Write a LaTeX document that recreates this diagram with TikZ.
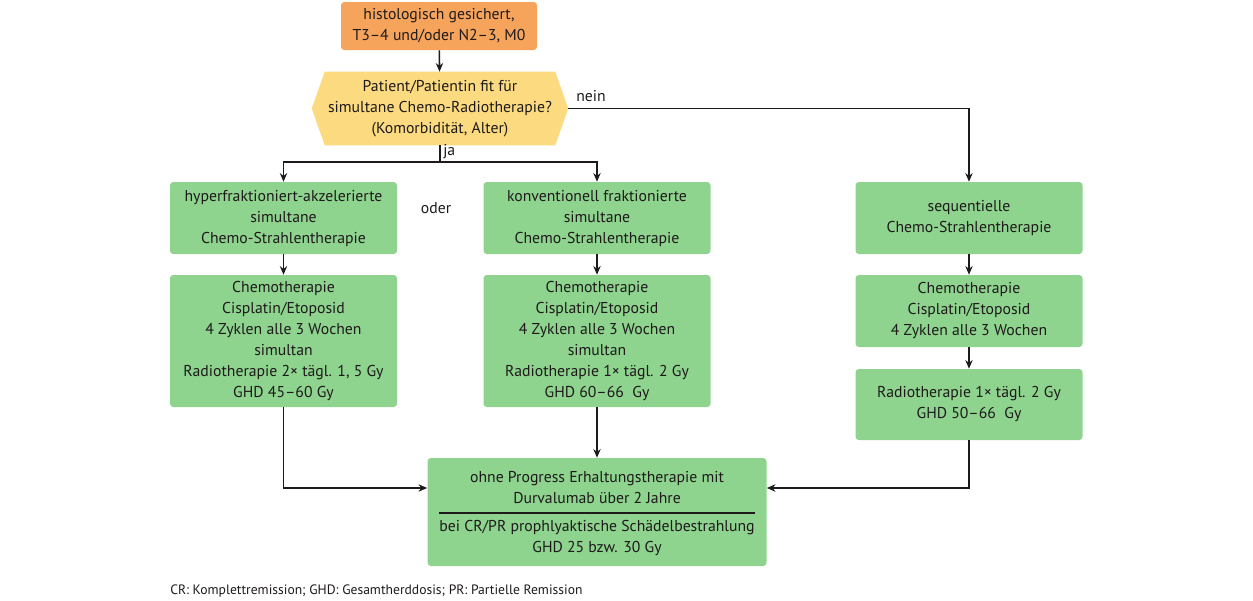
\documentclass[tikz,border=0pt]{standalone}
\usepackage{fontspec}
\setmainfont{PT Sans}
\usetikzlibrary{arrows.meta,calc,backgrounds}
\definecolor{gfill}{HTML}{8ED38E}
\definecolor{ofill}{HTML}{F6A45C}
\definecolor{yfill}{HTML}{FCDB80}
\definecolor{ink}{HTML}{1E1A1B}
\tikzset{
  box/.style={rounded corners=2.5pt, inner sep=2pt, align=center, text=ink},
  gbox/.style={box, fill=gfill, minimum width=170.25pt},
  arr/.style={draw=ink, line width=1.2pt, -{Stealth[length=6.5pt,width=5.5pt]}},
  ln/.style={draw=ink, line width=1.2pt},
  lbl/.style={text=ink, inner sep=0pt}
}
\begin{document}
\begin{tikzpicture}[x=0.75pt,y=-0.75pt, font=\fontsize{11.8}{15.75}\selectfont]
\useasboundingbox (0,0) rectangle (1253,600);

\node[box, fill=ofill, minimum width=147pt, minimum height=36pt] (O) at (439,26)
  {histologisch gesichert,\\T3–4 und/oder N2–3, M0};

\node[lbl, align=center, minimum width=192pt, minimum height=54.75pt] (H) at (440,108.5)
  {Patient/Patientin fit für\\simultane Chemo-Radiotherapie?\\(Komorbidität, Alter)};
\begin{scope}[on background layer]
  \fill[yfill] ($(H.north west)+(13,0)$) -- ($(H.north east)+(-13,0)$) -- (H.east)
    -- ($(H.south east)+(-13,0)$) -- ($(H.south west)+(13,0)$) -- (H.west) -- cycle;
\end{scope}

\node[gbox, minimum height=54pt] (A) at (283.5,218)
  {hyperfraktioniert-akzelerierte\\simultane\\Chemo-Strahlentherapie};
\node[gbox, minimum height=54pt] (B) at (597,218)
  {konventionell fraktionierte\\simultane\\Chemo-Strahlentherapie};
\node[gbox, minimum height=54pt] (C) at (969,218)
  {sequentielle\\Chemo-Strahlentherapie};
\node[lbl] (oder) at (436,208) {oder};

\node[gbox, minimum height=99pt] (A2) at (283.5,341)
  {Chemotherapie\\Cisplatin/Etoposid\\4 Zyklen alle 3 Wochen\\simultan\\Radiotherapie 2× tägl. 1, 5 Gy\\GHD 45–60 Gy};
\node[gbox, minimum height=99pt] (B2) at (597,341)
  {Chemotherapie\\Cisplatin/Etoposid\\4 Zyklen alle 3 Wochen\\simultan\\Radiotherapie 1× tägl. 2 Gy\\GHD 60–66~ Gy};
\node[gbox, minimum height=54pt] (C2) at (969,311)
  {Chemotherapie\\Cisplatin/Etoposid\\4 Zyklen alle 3 Wochen};
\node[gbox, minimum height=53.25pt] (C3) at (969,404.5)
  {Radiotherapie 1× tägl. 2 Gy\\GHD 50–66~ Gy};

\node[box, fill=gfill, minimum width=254.25pt, minimum height=81pt] (D) at (597,512) {};
\node[lbl, align=center] (D1) at (597,488) {ohne Progress Erhaltungstherapie mit\\Durvalumab über 2 Jahre};
\node[lbl, align=center] (D2) at (597,538.5) {bei CR/PR prophlyaktische Schädelbestrahlung\\GHD 25 bzw. 30 Gy};
\draw[ln, line width=0.9pt] ($(D.west)+(12,1)$) -- ($(D.east)+(-12,1)$);

\node[lbl, anchor=west, font=\fontsize{10.2}{12}\selectfont] (F) at (170,591)
  {CR: Komplettremission; GHD: Gesamtherddosis; PR: Partielle Remission};

% connectors
\draw[arr] (O) -- (H);
\coordinate (J) at (440,162);
\draw[ln] (H.south) -- (J);
\node[lbl, anchor=west] (ja) at (443,152) {ja};
\draw[arr] (J) -| (A.north);
\draw[arr] (J) -| (B.north);
\draw[arr] (H.east) -| (C.north);
\node[lbl, anchor=west] (nein) at (576,96) {nein};

\draw[arr] (A) -- (A2);
\draw[arr] (B) -- (B2);
\draw[arr] (C) -- (C2);
\draw[arr] (C2) -- (C3);

\draw[arr] (A2.south) |- ($(D.west)+(0,-24)$);
\draw[arr] (B2.south) -- (D.north);
\draw[arr] (C3.south) |- ($(D.east)+(0,-24)$);
\end{tikzpicture}
\end{document}
